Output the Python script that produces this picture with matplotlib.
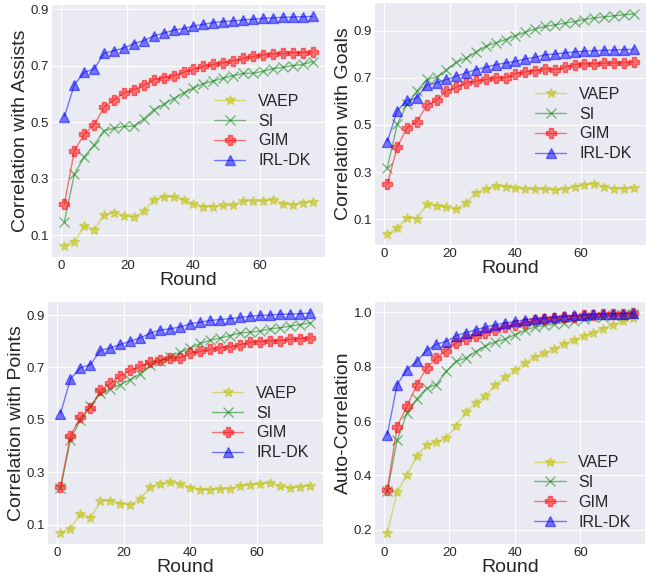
import matplotlib
matplotlib.use("Agg")
import matplotlib.pyplot as plt

rounds = list(range(1, 77, 3))
methods = ["VAEP", "SI", "GIM", "IRL-DK"]

assists_vaep = [0.063, 0.075, 0.133, 0.119, 0.172, 0.180, 0.168, 0.164, 0.184, 0.226,
                0.236, 0.236, 0.226, 0.209, 0.201, 0.201, 0.205, 0.205, 0.221, 0.221,
                0.221, 0.226, 0.211, 0.207, 0.214, 0.217]
assists_si = [0.147, 0.316, 0.378, 0.419, 0.470, 0.479, 0.485, 0.486, 0.512, 0.544,
              0.563, 0.584, 0.604, 0.621, 0.637, 0.646, 0.656, 0.665, 0.673, 0.674,
              0.680, 0.690, 0.695, 0.700, 0.705, 0.715]
assists_gim = [0.211, 0.399, 0.458, 0.491, 0.554, 0.579, 0.604, 0.616, 0.631, 0.651,
               0.658, 0.665, 0.677, 0.688, 0.698, 0.705, 0.711, 0.717, 0.726, 0.733,
               0.738, 0.742, 0.744, 0.746, 0.747, 0.748]
assists_irl = [0.520, 0.633, 0.677, 0.689, 0.744, 0.754, 0.763, 0.779, 0.789, 0.806,
               0.816, 0.826, 0.832, 0.841, 0.847, 0.853, 0.857, 0.859, 0.863, 0.865,
               0.868, 0.870, 0.872, 0.873, 0.874, 0.875]

goals_vaep = [0.037, 0.061, 0.107, 0.100, 0.164, 0.157, 0.150, 0.143, 0.168, 0.213,
              0.227, 0.241, 0.238, 0.231, 0.226, 0.227, 0.227, 0.223, 0.227, 0.238,
              0.246, 0.251, 0.237, 0.230, 0.230, 0.234]
goals_si = [0.319, 0.502, 0.587, 0.643, 0.693, 0.703, 0.735, 0.766, 0.784, 0.810,
            0.834, 0.848, 0.862, 0.879, 0.894, 0.908, 0.918, 0.925, 0.932, 0.939,
            0.947, 0.954, 0.959, 0.963, 0.968, 0.971]
goals_gim = [0.248, 0.406, 0.488, 0.514, 0.584, 0.604, 0.643, 0.660, 0.679, 0.686,
             0.693, 0.700, 0.700, 0.718, 0.725, 0.731, 0.738, 0.735, 0.745, 0.756,
             0.760, 0.759, 0.762, 0.763, 0.765, 0.766]
goals_irl = [0.429, 0.561, 0.604, 0.615, 0.669, 0.679, 0.693, 0.707, 0.721, 0.735,
             0.745, 0.756, 0.763, 0.770, 0.780, 0.787, 0.798, 0.801, 0.806, 0.810,
             0.813, 0.815, 0.817, 0.818, 0.820, 0.821]

points_vaep = [0.068, 0.085, 0.142, 0.126, 0.189, 0.192, 0.180, 0.176, 0.199, 0.244,
               0.255, 0.262, 0.255, 0.240, 0.234, 0.234, 0.236, 0.236, 0.249, 0.253,
               0.255, 0.259, 0.246, 0.240, 0.244, 0.249]
points_si = [0.238, 0.425, 0.501, 0.552, 0.601, 0.618, 0.635, 0.654, 0.676, 0.708,
             0.724, 0.741, 0.759, 0.775, 0.792, 0.804, 0.813, 0.822, 0.832, 0.835,
             0.839, 0.848, 0.852, 0.858, 0.864, 0.871]
points_gim = [0.244, 0.440, 0.510, 0.546, 0.613, 0.639, 0.669, 0.689, 0.705, 0.720,
              0.728, 0.736, 0.737, 0.754, 0.762, 0.769, 0.775, 0.779, 0.787, 0.797,
              0.799, 0.801, 0.803, 0.807, 0.810, 0.812]
points_irl = [0.524, 0.657, 0.699, 0.711, 0.766, 0.775, 0.788, 0.801, 0.813, 0.832,
              0.843, 0.848, 0.855, 0.867, 0.873, 0.880, 0.883, 0.887, 0.891, 0.896,
              0.899, 0.900, 0.903, 0.904, 0.905, 0.908]

auto_vaep = [0.188, 0.339, 0.402, 0.470, 0.513, 0.523, 0.537, 0.583, 0.633, 0.666,
             0.693, 0.734, 0.761, 0.787, 0.813, 0.836, 0.850, 0.865, 0.885, 0.897,
             0.914, 0.926, 0.940, 0.955, 0.967, 0.978]
auto_si = [0.341, 0.529, 0.629, 0.681, 0.721, 0.734, 0.783, 0.820, 0.832, 0.856,
           0.877, 0.891, 0.902, 0.918, 0.934, 0.946, 0.952, 0.957, 0.963, 0.967,
           0.975, 0.982, 0.985, 0.989, 0.990, 0.993]
auto_gim = [0.345, 0.580, 0.654, 0.734, 0.795, 0.832, 0.859, 0.887, 0.902, 0.914,
            0.924, 0.936, 0.945, 0.955, 0.963, 0.971, 0.975, 0.979, 0.983, 0.985,
            0.989, 0.991, 0.994, 0.995, 0.996, 0.998]
auto_irl = [0.550, 0.734, 0.789, 0.820, 0.860, 0.883, 0.893, 0.914, 0.926, 0.936,
            0.946, 0.955, 0.961, 0.967, 0.973, 0.977, 0.980, 0.983, 0.987, 0.989,
            0.991, 0.993, 0.994, 0.995, 0.996, 0.998]

styles = {
    "VAEP": ("y", "*"),
    "SI": ("g", "x"),
    "GIM": ("r", "P"),
    "IRL-DK": ("b", "^"),
}

panels = [
    ([0.0805, 0.5554, 0.4226, 0.4360], "Correlation with Assists",
     [assists_vaep, assists_si, assists_gim, assists_irl],
     [0.1, 0.3, 0.5, 0.7, 0.9], "center right"),
    ([0.5805, 0.5761, 0.4195, 0.4187], "Correlation with Goals",
     [goals_vaep, goals_si, goals_gim, goals_irl],
     [0.1, 0.3, 0.5, 0.7, 0.9], "center right"),
    ([0.0743, 0.0588, 0.4257, 0.4187], "Correlation with Points",
     [points_vaep, points_si, points_gim, points_irl],
     [0.1, 0.3, 0.5, 0.7, 0.9], "center right"),
    ([0.5805, 0.0588, 0.4180, 0.4187], "Auto-Correlation",
     [auto_vaep, auto_si, auto_gim, auto_irl],
     [0.2, 0.4, 0.6, 0.8, 1.0], "lower right"),
]

plt.style.use("seaborn-v0_8-darkgrid")
plt.rcParams["font.family"] = ["Liberation Sans", "DejaVu Sans"]

fig = plt.figure(figsize=(6.46, 5.78), dpi=100)

for rect, ylabel, series, yticks, loc in panels:
    ax = fig.add_axes(rect)
    for name, values in zip(methods, series):
        color, marker = styles[name]
        ax.plot(rounds, values, color=color, marker=marker, markersize=7,
                linewidth=1, alpha=0.5, label=name)
    ax.set_xticks([0, 20, 40, 60])
    ax.set_yticks(yticks)
    ax.tick_params(labelsize=9.5, pad=2)
    ax.set_xlabel("Round", fontsize=14, labelpad=0)
    ax.set_ylabel(ylabel, fontsize=14, labelpad=1)
    ax.legend(loc=loc, fontsize=11.5, frameon=False, labelspacing=0.3)

fig.savefig("out.png", dpi=100)
